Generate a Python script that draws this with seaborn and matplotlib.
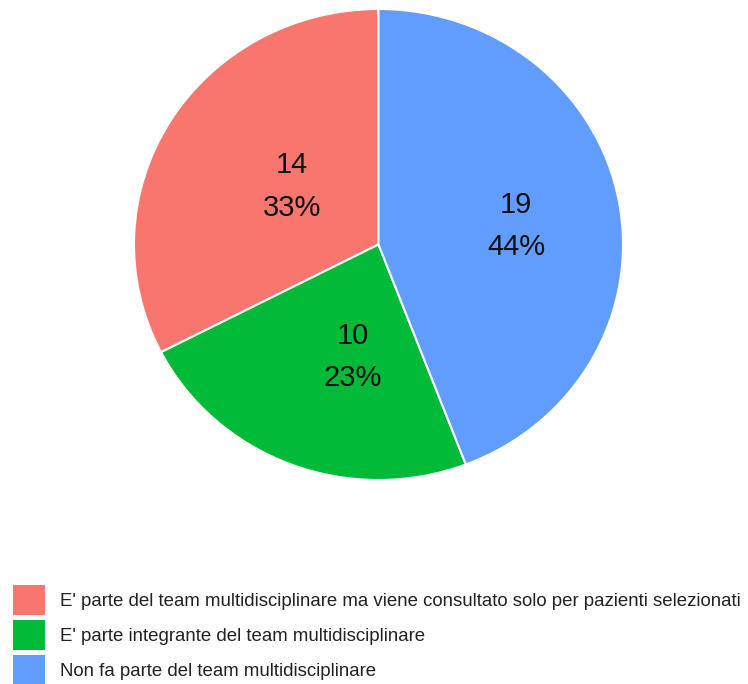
import matplotlib
matplotlib.use("Agg")
import matplotlib.pyplot as plt
from matplotlib.patches import Patch
import numpy as np
import seaborn as sns

categories = [
    "E' parte del team multidisciplinare ma viene consultato solo per pazienti selezionati",
    "E' parte integrante del team multidisciplinare",
    "Non fa parte del team multidisciplinare",
]
counts = [14, 10, 19]
colors = ["#F8766D", "#00BA38", "#619CFF"]
# label placement for each slice: fraction of the radius, and a small
# angular nudge (degrees) away from the slice bisector
label_radius = [0.431, 0.49, 0.568]
label_shift = [-3.4, 8.4, -2.5]

sns.set_theme(style="white")
plt.rcParams["font.family"] = ["Liberation Sans", "DejaVu Sans"]

fig = plt.figure(figsize=(7.48, 6.84), dpi=100)
ax = fig.add_axes([134 / 748, 1 - 480 / 684, 489 / 748, 471 / 684])

total = sum(counts)
wedges, _ = ax.pie(
    counts,
    colors=colors,
    startangle=90,
    counterclock=True,
    radius=1.0,
    wedgeprops=dict(edgecolor="white", linewidth=1.5),
)
ax.set_aspect("auto")
ax.set_xlim(-1, 1)
ax.set_ylim(-1, 1)
ax.axis("off")

for w, n, r, d in zip(wedges, counts, label_radius, label_shift):
    mid = np.deg2rad((w.theta1 + w.theta2) / 2 + d)
    ax.text(
        r * np.cos(mid), r * np.sin(mid),
        f"{n}\n{round(100 * n / total)}%",
        ha="center", va="center", fontsize=21, color="#111111",
        linespacing=1.66,
    )

handles = [Patch(facecolor=c, edgecolor="none") for c in colors]
fig.legend(
    handles, categories,
    loc="upper left", bbox_to_anchor=(13 / 748, 1 - 585 / 684),
    frameon=False, fontsize=13.4, labelcolor="#222222",
    handlelength=1.72, handleheight=2.1,
    handletextpad=0.8, labelspacing=0.28, borderpad=0.0, borderaxespad=0.0,
)

fig.savefig("out.png", dpi=100, facecolor="white")
